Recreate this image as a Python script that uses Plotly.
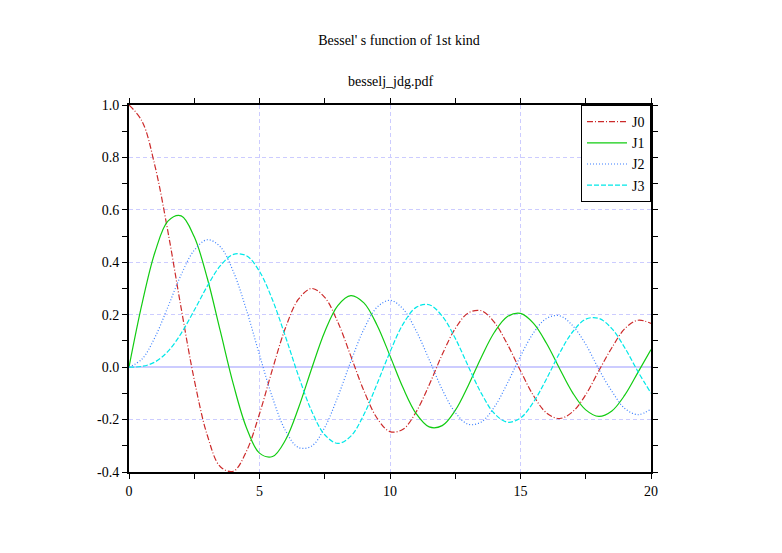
import plotly.graph_objects as go

x_vals = [i * 0.5 for i in range(41)]

j0 = [1.000, 0.938, 0.765, 0.512, 0.224, -0.048, -0.260, -0.380, -0.397, -0.321,
      -0.178, -0.007, 0.151, 0.260, 0.300, 0.266, 0.172, 0.042, -0.090, -0.194,
      -0.246, -0.237, -0.171, -0.068, 0.048, 0.147, 0.207, 0.215, 0.171, 0.087,
      -0.014, -0.109, -0.175, -0.196, -0.170, -0.105, -0.014, 0.074, 0.147, 0.179,
      0.167]
j1 = [0.000, 0.242, 0.440, 0.558, 0.577, 0.497, 0.339, 0.137, -0.066, -0.231,
      -0.328, -0.341, -0.277, -0.154, -0.005, 0.135, 0.235, 0.273, 0.245, 0.161,
      0.043, -0.079, -0.177, -0.228, -0.223, -0.165, -0.070, 0.038, 0.133, 0.193,
      0.205, 0.167, 0.090, -0.006, -0.098, -0.163, -0.188, -0.167, -0.106, -0.020,
      0.067]
j2 = [0.000, 0.031, 0.115, 0.232, 0.353, 0.446, 0.486, 0.459, 0.364, 0.218,
      0.047, -0.117, -0.243, -0.307, -0.301, -0.230, -0.113, 0.022, 0.145, 0.228,
      0.255, 0.222, 0.139, 0.029, -0.085, -0.173, -0.218, -0.209, -0.152, -0.061,
      0.042, 0.131, 0.186, 0.196, 0.158, 0.087, -0.008, -0.092, -0.158, -0.181,
      -0.160]
j3 = [0.000, 0.003, 0.020, 0.061, 0.129, 0.217, 0.309, 0.387, 0.430, 0.425,
      0.365, 0.256, 0.115, -0.035, -0.168, -0.258, -0.291, -0.263, -0.181, -0.065,
      0.058, 0.164, 0.228, 0.238, 0.195, 0.110, 0.003, -0.100, -0.177, -0.210,
      -0.194, -0.133, -0.044, 0.054, 0.135, 0.183, 0.186, 0.147, 0.073, -0.017,
      -0.099]

y_ticks = [-0.4, -0.2, 0.0, 0.2, 0.4, 0.6, 0.8, 1.0]
y_labels = ['-0.4', '-0.2', '0.0', '0.2', '0.4', '0.6', '0.8', '1.0']
x_ticks = [0, 5, 10, 15, 20]

series = [
    ('J0', j0, '#cc2a2a', '6px,2px,1px,2px'),
    ('J1', j1, '#11cc11', 'solid'),
    ('J2', j2, '#3a7fff', '1px,2px'),
    ('J3', j3, '#00e8e8', '5px,2px'),
]

fig = go.Figure()
for name, vals, color, dash in series:
    fig.add_trace(go.Scatter(x=x_vals, y=vals, name=name, mode='lines',
                             line=dict(color=color, width=1.2, dash=dash, shape='spline')))

axis_style = dict(showline=True, linecolor='black', linewidth=2, mirror='allticks',
                  ticks='outside', ticklen=5, tickcolor='black', tickwidth=1,
                  showgrid=True, gridcolor='#ccccff', griddash='4px,3px', gridwidth=1,
                  zeroline=False)

fig.update_xaxes(range=[0, 20], tickvals=x_ticks,
                 minor=dict(dtick=2.5, ticks='outside', ticklen=5, tickcolor='black', showgrid=False),
                 **axis_style)
fig.update_yaxes(range=[-0.4, 1.0], tickvals=y_ticks, ticktext=y_labels,
                 minor=dict(dtick=0.1, ticks='outside', ticklen=5, tickcolor='black', showgrid=False),
                 **axis_style)
fig.update_yaxes(zeroline=True, zerolinecolor='#ccccff', zerolinewidth=2)

# page body has an 8px margin, so shift everything up/left by 8
fig.update_layout(
    width=782, height=553,
    margin=dict(l=121, r=139, t=97, b=89),
    paper_bgcolor='white', plot_bgcolor='white',
    font=dict(family='Liberation Serif', size=14, color='black'),
    title=dict(text="Bessel' s function of 1st kind", x=0.5, xanchor='center',
               y=1 - 32 / 553, yanchor='middle', font=dict(size=14)),
    legend=dict(x=1, y=1, xanchor='right', yanchor='top', bgcolor='white',
                bordercolor='black', borderwidth=1, tracegroupgap=0,
                itemwidth=40, font=dict(size=14)),
    annotations=[dict(text='besselj_jdg.pdf', xref='paper', yref='paper',
                      x=0.5, y=1, yshift=33, showarrow=False, font=dict(size=14))],
)

fig.write_html("out.html")
